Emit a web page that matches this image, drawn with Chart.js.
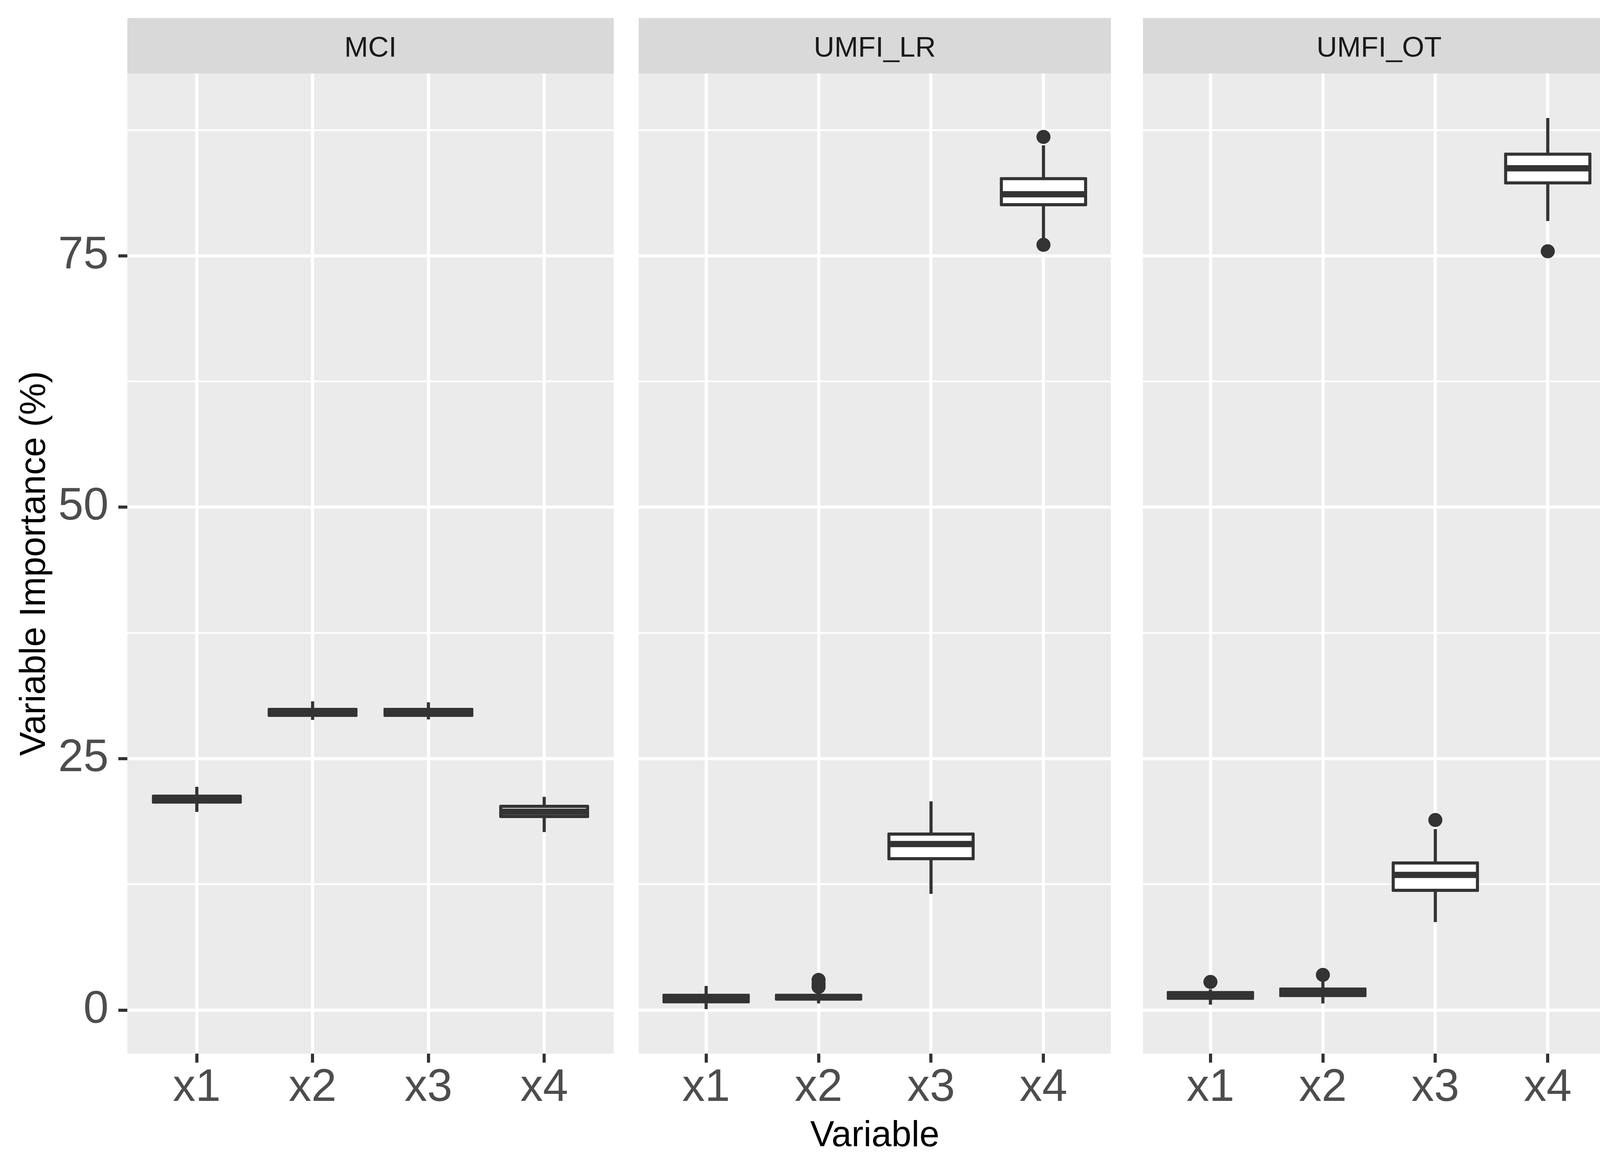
<!DOCTYPE html>
<html>
<head>
<meta charset="utf-8">
<script src="https://cdn.jsdelivr.net/npm/chart.js@4.4.1/dist/chart.umd.min.js"></script>
<style>
html,body{margin:0;padding:0;background:#ffffff;}
body{width:4200px;height:3000px;position:relative;overflow:hidden;}
.panel{position:absolute;top:0;height:3000px;}
canvas{display:block;}
</style>
</head>
<body>
<div class="panel" style="left:0px;width:1571px"><canvas id="c0" width="1571" height="3000"></canvas></div>
<div class="panel" style="left:1617px;width:1245px"><canvas id="c1" width="1245" height="3000"></canvas></div>
<div class="panel" style="left:2908px;width:1245px"><canvas id="c2" width="1245" height="3000"></canvas></div>
<script>
// ---------- data ----------
const panels = ['MCI', 'UMFI_LR', 'UMFI_OT'];
const categories = ['x1', 'x2', 'x3', 'x4'];
const yTickLabels = [0, 25, 50, 75];
const yMinorTicks = [12.5, 37.5, 62.5, 87.5];
const xAxisTitle = 'Variable';
const yAxisTitle = 'Variable Importance (%)';

// MCI
const mciLowerWhisker = [19.7, 28.85, 28.9, 17.7];
const mciQ1           = [20.68, 29.3, 29.3, 19.25];
const mciMedian       = [21.0, 29.6, 29.6, 19.72];
const mciQ3           = [21.27, 29.9, 29.9, 20.26];
const mciUpperWhisker = [22.2, 30.7, 30.6, 21.2];
const mciOutliers     = [[], [], [], []];

// UMFI_LR
const lrLowerWhisker = [0.1, 0.66, 11.56, 76.75];
const lrQ1           = [0.82, 1.09, 15.05, 80.08];
const lrMedian       = [1.1, 1.25, 16.51, 81.12];
const lrQ3           = [1.48, 1.48, 17.5, 82.67];
const lrUpperWhisker = [2.4, 1.9, 20.75, 85.98];
const lrOutliers     = [[], [3.0, 2.6, 2.3], [], [86.82, 76.09]];

// UMFI_OT
const otLowerWhisker = [0.54, 0.66, 8.75, 78.46];
const otQ1           = [1.17, 1.44, 11.91, 82.24];
const otMedian       = [1.45, 1.75, 13.44, 83.7];
const otQ3           = [1.75, 2.1, 14.63, 85.11];
const otUpperWhisker = [2.06, 2.84, 18.0, 88.7];
const otOutliers     = [[2.8], [3.5], [18.9], [75.45]];

const panelStats = [
  {lw: mciLowerWhisker, q1: mciQ1, med: mciMedian, q3: mciQ3, uw: mciUpperWhisker, out: mciOutliers},
  {lw: lrLowerWhisker,  q1: lrQ1,  med: lrMedian,  q3: lrQ3,  uw: lrUpperWhisker,  out: lrOutliers},
  {lw: otLowerWhisker,  q1: otQ1,  med: otMedian,  q3: otQ3,  uw: otUpperWhisker,  out: otOutliers}
];

// ---------- style ----------
const FONT = 'Liberation Sans';
const DARK = '#333333';
const Y_MIN = -4.33, Y_MAX = 93.13;
const X_MIN = 0.4, X_MAX = 4.6;
const BOX_WIDTH = 0.75;

Chart.defaults.font.family = FONT;

const facetPlugin = {
  id: 'ggFacet',
  beforeDraw(chart, args, o) {
    const {ctx, chartArea: a} = chart;
    ctx.save();
    ctx.fillStyle = '#EBEBEB';
    ctx.fillRect(a.left, a.top, a.right - a.left, a.bottom - a.top);
    ctx.fillStyle = '#D9D9D9';
    ctx.fillRect(a.left, o.stripTop, a.right - a.left, a.top - o.stripTop);
    ctx.fillStyle = '#1A1A1A';
    ctx.font = '73px "' + FONT + '"';
    ctx.textAlign = 'center';
    ctx.textBaseline = 'alphabetic';
    ctx.fillText(o.label, (a.left + a.right) / 2, o.stripBaseline);
    ctx.restore();
  },
  beforeDatasetsDraw(chart, args, o) {
    const {ctx, scales: {x, y}} = chart;
    const s = panelStats[o.panel];
    ctx.save();
    ctx.strokeStyle = DARK;
    ctx.lineWidth = 8;
    ctx.lineCap = 'butt';
    categories.forEach((c, i) => {
      const px = x.getPixelForValue(i + 1);
      ctx.beginPath();
      ctx.moveTo(px, y.getPixelForValue(s.q3[i]));
      ctx.lineTo(px, y.getPixelForValue(s.uw[i]));
      ctx.moveTo(px, y.getPixelForValue(s.q1[i]));
      ctx.lineTo(px, y.getPixelForValue(s.lw[i]));
      ctx.stroke();
    });
    ctx.restore();
  },
  afterDatasetsDraw(chart, args, o) {
    const {ctx, scales: {x, y}} = chart;
    const s = panelStats[o.panel];
    ctx.save();
    ctx.strokeStyle = DARK;
    ctx.lineWidth = 16;
    ctx.lineCap = 'butt';
    categories.forEach((c, i) => {
      const x0 = x.getPixelForValue(i + 1 - BOX_WIDTH / 2);
      const x1 = x.getPixelForValue(i + 1 + BOX_WIDTH / 2);
      const py = y.getPixelForValue(s.med[i]);
      ctx.beginPath();
      ctx.moveTo(x0, py);
      ctx.lineTo(x1, py);
      ctx.stroke();
    });
    ctx.restore();
  }
};

function makeChart(idx) {
  const s = panelStats[idx];
  const showY = idx === 0;
  const boxes = categories.map((c, i) => ({x: i + 1, y: [s.q1[i], s.q3[i]]}));
  const outs = [];
  categories.forEach((c, i) => s.out[i].forEach(v => outs.push({x: i + 1, y: v})));
  const isMajor = v => yTickLabels.includes(v);

  return new Chart(document.getElementById('c' + idx), {
    type: 'bar',
    data: {
      datasets: [
        {
          type: 'bar',
          data: boxes,
          backgroundColor: '#FFFFFF',
          borderColor: DARK,
          borderWidth: 8,
          borderSkipped: false,
          borderRadius: 3,
          inflateAmount: 4,
          barPercentage: BOX_WIDTH,
          categoryPercentage: 1.0
        },
        {
          type: 'scatter',
          data: outs,
          pointRadius: 18,
          pointBackgroundColor: DARK,
          pointBorderWidth: 0,
          showLine: false
        }
      ]
    },
    options: {
      responsive: false,
      animation: false,
      devicePixelRatio: 1,
      layout: {padding: {top: 188, left: 0, right: 0, bottom: 0}},
      plugins: {
        legend: {display: false},
        tooltip: {enabled: false},
        title: {display: false},
        ggFacet: {panel: idx, label: panels[idx], stripTop: 46, stripBaseline: 145}
      },
      scales: {
        x: {
          type: 'linear',
          min: X_MIN, max: X_MAX,
          offset: false,
          afterBuildTicks: sc => { sc.ticks = categories.map((c, i) => ({value: i + 1})); },
          afterFit: sc => { sc.height = 303; },
          grid: {offset: false, color: '#FFFFFF', lineWidth: 8, drawTicks: true, tickLength: 23, tickColor: DARK, tickWidth: 8},
          border: {display: false},
          ticks: {
            padding: -4, color: '#4D4D4D', font: {family: FONT, size: 116},
            autoSkip: false, maxRotation: 0, minRotation: 0,
            callback: v => categories[Math.round(v) - 1]
          },
          title: {
            display: idx === 1, text: xAxisTitle, color: '#000000',
            font: {family: FONT, size: 92}, padding: {top: 0, bottom: 36}
          }
        },
        y: {
          type: 'linear',
          min: Y_MIN, max: Y_MAX,
          afterBuildTicks: sc => {
            sc.ticks = yTickLabels.concat(yMinorTicks).sort((a, b) => a - b).map(v => ({value: v}));
          },
          afterFit: sc => { sc.width = showY ? 326 : 0; },
          grid: {
            color: '#FFFFFF',
            lineWidth: c => (c.tick && isMajor(c.tick.value)) ? 8 : 4.5,
            drawTicks: showY, tickLength: 23,
            tickColor: c => (c.tick && isMajor(c.tick.value)) ? DARK : 'rgba(0,0,0,0)',
            tickWidth: 8
          },
          border: {display: false},
          ticks: {
            display: showY, padding: 25, color: '#4D4D4D', font: {family: FONT, size: 116},
            autoSkip: false,
            callback: v => isMajor(v) ? String(v) : ''
          },
          title: {
            display: showY, text: yAxisTitle, color: '#000000',
            font: {family: FONT, size: 92}, padding: {top: 34, bottom: 0}
          }
        }
      }
    },
    plugins: [facetPlugin]
  });
}

panels.forEach((p, i) => makeChart(i));
</script>
</body>
</html>
